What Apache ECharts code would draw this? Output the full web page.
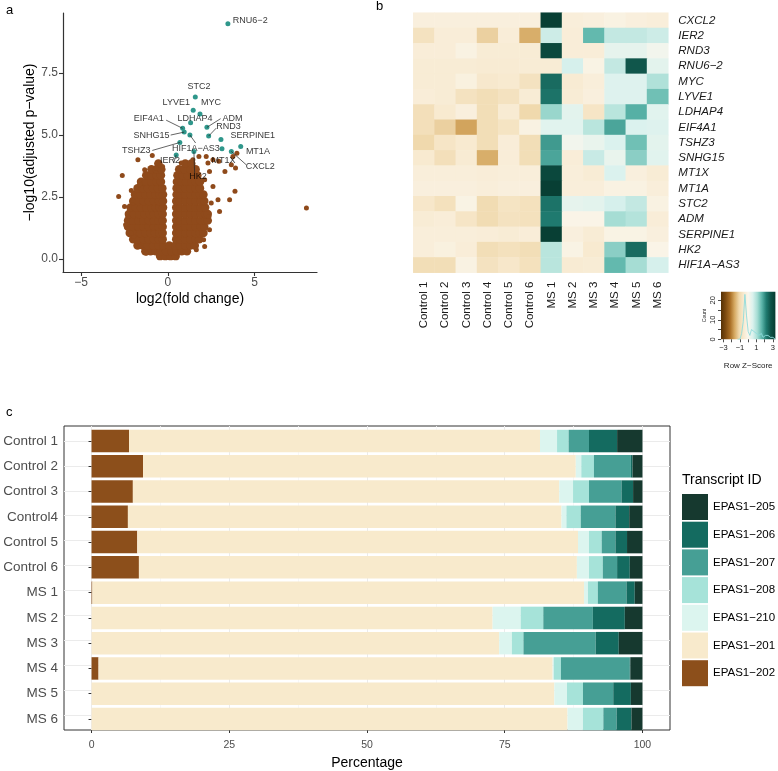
<!DOCTYPE html>
<html><head><meta charset="utf-8">
<script src="https://cdn.jsdelivr.net/npm/echarts@6/dist/echarts.min.js"></script>
<style>html,body{margin:0;padding:0;background:#fff}#c{width:778px;height:771px}</style>
</head><body><div id="c"></div><script>
const FONT = '"Liberation Sans", Arial, Helvetica, sans-serif';

// ---------- panel a : volcano ----------
// dense cloud, read row by row: [y, [x values]]
const volcanoRows = [
  [0.12,[-0.45,-0.15,0.15,0.45]],
  [0.32,[-1.3,-1.0,-0.7,-0.4,-0.1,0.2,0.5,0.8,1.1]],
  [0.55,[-1.75,-1.45,-1.15,-0.85,-0.55,-0.27,0.08,0.43,0.7,1.0,1.3,1.55]],
  [0.80,[-2.0,-1.7,-1.4,-1.1,-0.8,-0.52,-0.3,0.48,0.7,1.0,1.3,1.6,1.8]],
  [1.05,[-2.2,-1.9,-1.6,-1.3,-1.0,-0.75,-0.5,-0.3,0.48,0.7,1.0,1.3,1.6,1.85,2.05]],
  [1.30,[-2.3,-2.0,-1.7,-1.4,-1.1,-0.8,-0.55,-0.3,0.48,0.7,1.0,1.3,1.6,1.9,2.1]],
  [1.56,[-2.3,-2.0,-1.7,-1.4,-1.1,-0.8,-0.55,-0.3,0.48,0.7,1.0,1.3,1.6,1.9,2.15,2.3]],
  [1.82,[-2.25,-1.95,-1.65,-1.35,-1.05,-0.8,-0.55,-0.3,0.48,0.7,1.0,1.3,1.6,1.9,2.15,2.3]],
  [2.08,[-2.15,-1.85,-1.55,-1.25,-0.95,-0.7,-0.47,-0.28,0.48,0.7,1.0,1.3,1.6,1.9,2.15]],
  [2.34,[-2.0,-1.7,-1.4,-1.1,-0.8,-0.52,-0.28,0.48,0.7,1.0,1.3,1.6,1.9,2.1]],
  [2.60,[-1.9,-1.6,-1.3,-1.0,-0.72,-0.48,-0.28,0.5,0.72,1.0,1.3,1.6,1.85,2.05]],
  [2.86,[-1.75,-1.45,-1.15,-0.85,-0.57,-0.32,0.5,0.72,1.0,1.3,1.6,1.85]],
  [3.12,[-1.55,-1.25,-0.95,-0.65,-0.4,0.52,0.78,1.05,1.35,1.6,1.85]],
  [3.38,[-1.25,-0.95,-0.65,-0.4,0.55,0.85,1.15,1.45,1.7]],
  [3.62,[-0.95,-0.65,-0.38,0.65,0.95,1.3,1.6]],
  [3.85,[-0.55,1.0,1.35]]
];
const volcanoOutliers = [
  [-1.73,4.0],[-0.9,4.18],[-2.63,3.37],[-2.84,2.52],[-2.44,1.38],[-2.11,2.77],[-2.02,2.36],
  [-1.98,0.91],[-1.63,3.0],[-1.34,3.6],[-0.67,3.67],[-0.31,3.73],[0.77,3.87],[1.44,4.0],
  [1.79,4.14],[2.21,4.14],[2.31,3.87],[2.4,3.53],[2.12,3.2],[2.6,2.93],[2.5,2.26],[2.89,2.39],
  [2.94,3.94],[2.6,4.0],[3.29,3.53],[3.56,2.39],[3.87,2.73],[3.66,3.8],[3.9,3.67],[3.75,4.14],
  [3.98,4.27],[7.99,2.06],[2.98,1.92],[2.37,1.72],[2.4,1.18],[2.06,0.78],[-2.5,2.12],
  [-2.31,1.72],[-2.11,1.05],[-1.63,0.51],[-1.25,0.24],[1.64,0.38],[2.12,0.51]
];
const hitGenes  = ['RNU6−2','STC2','LYVE1','MYC','LDHAP4','ADM','RND3','EIF4A1','SNHG15','HIF1A−AS3','SERPINE1','TSHZ3','MT1A','MT1X','CXCL2','HK2','IER2'];
const hitX      = [3.46,1.58,1.46,1.85,1.31,2.25,2.35,0.85,0.94,1.27,3.06,0.69,4.2,3.12,3.66,1.5,0.48];
const hitY      = [9.49,6.53,6.0,5.85,5.5,5.31,4.96,5.27,5.12,5.0,4.82,4.7,4.54,4.45,4.34,4.34,4.2];
const hitLabelX = [4.75,1.79,0.48,2.48,1.56,3.72,3.49,-1.11,-0.94,1.62,4.9,-1.82,5.19,3.21,5.33,1.73,0.12];
const hitLabelY = [9.62,6.94,6.30,6.30,5.67,5.66,5.33,5.67,5.0,4.45,5.0,4.37,4.35,3.96,3.73,3.33,3.98];
const leaderLines = [
  [[-0.1,5.6],[0.85,5.27]],[[0.16,5.0],[0.94,5.12]],[[-0.9,4.38],[0.69,4.7]],
  [[1.6,4.68],[1.27,5.0]],[[3.04,5.66],[2.25,5.31]],[[2.79,5.28],[2.35,4.96]],
  [[4.52,3.8],[3.66,4.34]],[[1.54,3.47],[1.5,4.34]],[[0.33,3.87],[0.48,4.2]]
];
const volcanoXTicks = [-5,0,5];
const volcanoYTicks = [0,2.5,5,7.5];

// ---------- panel b : heatmap ----------
const samples = ['Control 1','Control 2','Control 3','Control 4','Control 5','Control 6','MS 1','MS 2','MS 3','MS 4','MS 5','MS 6'];
const genes = ['CXCL2','IER2','RND3','RNU6−2','MYC','LYVE1','LDHAP4','EIF4A1','TSHZ3','SNHG15','MT1X','MT1A','STC2','ADM','SERPINE1','HK2','HIF1A−AS3'];
const zScores = [
  [-0.3,-0.3,-0.3,-0.3,-0.3,-0.3, 3.2,-0.35,-0.3,-0.2,-0.3,-0.35],
  [-0.8,-0.4,-0.4,-1.2,-0.4,-1.6, 0.7,-0.4, 1.6, 0.8, 0.8, 0.7],
  [-0.4,-0.4,-0.2,-0.45,-0.45,-0.45, 3.0,-0.4,-0.4, 0.35, 0.35, 0.15],
  [-0.45,-0.45,-0.45,-0.5,-0.5,-0.45,-0.45, 0.6,-0.15, 0.8, 2.7, 0.4],
  [-0.45,-0.45,-0.25,-0.6,-0.55,-0.8, 2.4,-0.5,-0.35, 0.5, 0.5, 1.0],
  [-0.4,-0.45,-0.8,-0.95,-0.8,-0.45, 2.3,-0.45,-0.3, 0.5, 0.5, 1.5],
  [-0.9,-0.55,-0.3,-0.95,-0.5,-1.1, 1.2, 0.4,-0.7, 0.9, 1.7, 0.45],
  [-0.9,-1.2,-1.7,-0.95,-0.75,-0.2, 0.45, 0.45, 0.9, 1.8, 0.55, 0.5],
  [-1.1,-0.7,-0.55,-0.95,-0.4,-0.95, 1.9, 0.15, 0.3, 0.55, 1.5, 0.4],
  [-0.55,-0.9,-0.5,-1.6,-0.4,-0.95, 1.8,-0.4, 0.75, 0.3, 1.3, 0.45],
  [-0.35,-0.35,-0.35,-0.4,-0.35,-0.35, 3.0,-0.35,-0.45, 0.55,-0.3,-0.45],
  [-0.3,-0.3,-0.3,-0.35,-0.3,-0.3, 3.2,-0.35,-0.35,-0.2,-0.2,-0.35],
  [-0.65,-0.85,-0.15,-1.0,-0.75,-0.85, 2.3, 0.35, 0.4, 0.6, 0.8,-0.2],
  [-0.45,-0.4,-0.7,-1.0,-0.8,-0.85, 2.2,-0.1,-0.1, 1.1, 0.95,-0.4],
  [-0.35,-0.35,-0.35,-0.4,-0.45,-0.4, 3.2,-0.3,-0.45,-0.15,-0.15,-0.3],
  [-0.35,-0.25,-0.4,-0.95,-0.85,-0.95, 0.9,-0.15,-0.55, 1.3, 2.4,-0.1],
  [-0.95,-0.95,-0.2,-0.8,-0.65,-0.85, 0.9,-0.5,-0.45, 1.6, 1.1, 0.6]
];
const zColors = ['#543005','#7d4a0f','#a86d24','#d6aa63','#f0d9ad','#f8ead0','#faf6ec','#dbf2ee','#a6ddd4','#5cb5aa','#1f7a6f','#0e5247','#073b30'];
const histZ     = [-1.3,-1.1,-0.9,-0.7,-0.5,-0.3,-0.1,0.1,0.3,0.5,0.7,0.9,1.1,1.3,1.5,1.7,1.9,2.1,2.3,2.5,2.7,2.9,3.1,3.3];
const histCount = [0,0,1,3,9,23,12,4,2,5,4,3,2,2,3,2,1,2,2,1,1,1,2,0];
const keyXTicks = [-3,-2,-1,0,1,2,3], keyXLabels = [-3,-1,1,3];
const keyYTicks = [0,5,10,15,20], keyYLabels = [0,10,20];

// ---------- panel c : stacked bars ----------
const barSamples = ['Control 1','Control 2','Control 3','Control4','Control 5','Control 6','MS 1','MS 2','MS 3','MS 4','MS 5','MS 6'];
const t202 = [6.8, 9.35,7.5, 6.6, 8.3, 8.6, 0.15,0,   0,   1.27,0,   0];
const t201 = [74.6,78.55,77.4,78.7,80.0,79.5,89.25,72.8,74.0,82.43,84.0,86.4];
const t210 = [3.1, 1.0, 2.5, 0.9, 2.0, 2.2, 0.7, 5.1, 2.3, 0.2, 2.3, 2.8];
const t208 = [2.1, 2.3, 2.9, 2.6, 2.3, 2.5, 1.8, 4.1, 2.1, 1.3, 2.9, 3.7];
const t207 = [3.7, 6.7, 5.9, 6.3, 2.5, 2.6, 5.2, 9.0, 13.1,12.5,5.5, 2.4];
const t206 = [5.1, 0.3, 2.1, 2.5, 2.1, 2.3, 1.5, 5.8, 4.2, 0.1, 3.2, 2.7];
const t205 = [4.6, 1.8, 1.7, 2.4, 2.8, 2.3, 1.4, 3.2, 4.3, 2.2, 2.1, 2.0];
const barSeriesDef = [
  ['EPAS1−202', t202, '#8C4F1B'], ['EPAS1−201', t201, '#F8EACC'], ['EPAS1−210', t210, '#DCF5EF'],
  ['EPAS1−208', t208, '#A6E3D9'], ['EPAS1−207', t207, '#469F95'], ['EPAS1−206', t206, '#146B60'],
  ['EPAS1−205', t205, '#16392F']
];
const legendOrder = ['EPAS1−205','EPAS1−206','EPAS1−207','EPAS1−208','EPAS1−210','EPAS1−201','EPAS1−202'];
const pctTicks = [0,25,50,75,100], pctMinor = [12.5,37.5,62.5,87.5];
const rowLines = [1,2,3,4,5,6,7,8,9,10,11,12];

// ---------- build ----------
const minus = v => (v < 0 ? '−' + Math.abs(v) : String(v));
const coreData = [];
volcanoRows.forEach(r => r[1].forEach(x => coreData.push([x, r[0]])));
const hitData = hitGenes.map((g,i) => [hitX[i], hitY[i]]);
const labelData = hitGenes.map((g,i) => ({name:g, value:[hitLabelX[i], hitLabelY[i]]}));
const heatData = [];
zScores.forEach((row,r) => row.forEach((v,c) => heatData.push([c, r, v])));
const gradStops = zColors.map((c,i) => ({offset: i/(zColors.length-1), color: c}));

const grey = '#4d4d4d', dark = '#333';
const tt = (text, left, top, size) => ({text, left, top, padding:0,
  textStyle:{fontSize:size, fontWeight:'normal', color:'#000', fontFamily:FONT}});
const option = {
  animation: false,
  textStyle: {fontFamily: FONT},
  title: [tt('a', 6, 4, 13), tt('b', 376, 0, 13), tt('c', 6, 406, 13), tt('Transcript ID', 682, 473, 14)],
  legend: {
    data: legendOrder, orient:'vertical', left:682, top:494, padding:0, itemWidth:26, itemHeight:26, itemGap:1.7,
    icon:'rect', textStyle:{fontSize:11.5, color:'#000', fontFamily:FONT}, selectedMode:false
  },
  grid: [
    {left:63, top:13, width:254, height:259},
    {left:413.3, top:12.7, width:255, height:260},
    {left:721, top:291.7, width:57, height:47.6, show:true, borderWidth:0,
      backgroundColor:{type:'linear', x:0, y:0, x2:1, y2:0, colorStops:gradStops}},
    {left:64, top:426, width:606, height:308, show:true, borderColor:dark, borderWidth:1},
    {left:64, top:428.4, width:606, height:303.2}
  ],
  visualMap: {type:'continuous', min:-3.3, max:3.3, seriesIndex:5, show:false, inRange:{color:zColors}},
  xAxis: [
    {gridIndex:0, type:'value', min:-6.05, max:8.6,
      axisLine:{onZero:false, lineStyle:{color:dark, width:1.2}},
      axisTick:{customValues:volcanoXTicks, length:4, lineStyle:{color:dark, width:1.1}},
      axisLabel:{customValues:volcanoXTicks, formatter:minus, fontSize:12, color:grey, margin:5},
      splitLine:{show:false},
      name:'log2(fold change)', nameLocation:'middle', nameGap:20, nameTextStyle:{fontSize:14, color:'#000'}},
    {gridIndex:1, type:'category', data:samples, axisLine:{show:false}, axisTick:{show:false},
      axisLabel:{interval:0, rotate:90, fontSize:11.5, color:'#1a1a1a', margin:9}},
    {gridIndex:2, type:'value', min:-3.3, max:3.3,
      axisLine:{show:false, onZero:false},
      axisTick:{customValues:keyXTicks, length:3, lineStyle:{color:'#222', width:0.8}},
      axisLabel:{customValues:keyXLabels, formatter:minus, fontSize:7.5, color:'#222', margin:5},
      splitLine:{show:false},
      name:'Row Z−Score', nameLocation:'middle', nameGap:22, nameTextStyle:{fontSize:8, color:'#222'}},
    {gridIndex:3, type:'value', min:-5, max:105,
      axisLine:{show:false, onZero:false},
      axisTick:{customValues:pctTicks, length:3, lineStyle:{color:dark}},
      axisLabel:{customValues:pctTicks, fontSize:10.5, color:grey, margin:10},
      splitLine:{show:true, lineStyle:{color:'#ebebeb', width:1}},
      name:'Percentage', nameLocation:'middle', nameGap:26, nameTextStyle:{fontSize:14, color:'#000'}},
    {gridIndex:3, type:'value', min:-5, max:105,
      axisLine:{show:false, onZero:false}, axisTick:{show:false, customValues:pctMinor}, axisLabel:{show:false},
      splitLine:{show:true, lineStyle:{color:'#f5f5f5', width:0.8}}},
    {gridIndex:4, type:'value', min:-5, max:105, show:false}
  ],
  yAxis: [
    {gridIndex:0, type:'value', min:-0.52, max:9.92,
      axisLine:{show:true, onZero:false, lineStyle:{color:dark, width:1.2}},
      axisTick:{show:true, customValues:volcanoYTicks, length:4, lineStyle:{color:dark, width:1.1}},
      axisLabel:{customValues:volcanoYTicks, formatter:v => v.toFixed(1), fontSize:12, color:grey, margin:5},
      splitLine:{show:false},
      name:'−log10(adjusted p−value)', nameLocation:'middle', nameRotate:90, nameGap:21,
      nameTextStyle:{fontSize:14, color:'#000'}},
    {gridIndex:1, type:'category', data:genes, inverse:true, position:'right',
      axisLine:{show:false}, axisTick:{show:false},
      axisLabel:{interval:0, fontSize:11.5, fontStyle:'italic', color:'#1a1a1a', margin:10}},
    {gridIndex:2, type:'value', min:0, max:24.4,
      axisLine:{show:false, onZero:false},
      axisTick:{show:true, customValues:keyYTicks, length:3, lineStyle:{color:'#222', width:0.8}},
      axisLabel:{customValues:keyYLabels, rotate:90, fontSize:7.5, color:'#222', margin:4},
      splitLine:{show:false},
      name:'Count', nameLocation:'middle', nameRotate:90, nameGap:14, nameTextStyle:{fontSize:5, color:'#222'}},
    {gridIndex:3, type:'value', min:0.4, max:12.6, inverse:true,
      axisLine:{show:false, onZero:false}, axisTick:{show:false, customValues:rowLines}, axisLabel:{show:false},
      splitLine:{show:true, lineStyle:{color:'#ebebeb', width:1}}},
    {gridIndex:4, type:'category', data:barSamples, inverse:true,
      axisLine:{show:false},
      axisTick:{show:true, alignWithLabel:true, length:3, lineStyle:{color:dark}},
      axisLabel:{interval:0, fontSize:13.5, color:grey, margin:6}}
  ],
  series: [
    {type:'scatter', xAxisIndex:0, yAxisIndex:0, data:coreData, symbolSize:8.5, silent:true,
      itemStyle:{color:'#8F4A1B', opacity:1}},
    {type:'scatter', xAxisIndex:0, yAxisIndex:0, data:volcanoOutliers, symbolSize:5, silent:true,
      itemStyle:{color:'#8F4A1B', opacity:1}},
    {type:'scatter', xAxisIndex:0, yAxisIndex:0, data:hitData, symbolSize:5, silent:true, z:4,
      itemStyle:{color:'#2F978B', opacity:1}},
    {type:'lines', coordinateSystem:'cartesian2d', xAxisIndex:0, yAxisIndex:0, silent:true, z:5,
      data:leaderLines.map(l => ({coords:l})), lineStyle:{color:'#222', width:0.7, opacity:1}},
    {type:'scatter', xAxisIndex:0, yAxisIndex:0, data:labelData, symbolSize:1, silent:true, z:6,
      itemStyle:{color:'rgba(0,0,0,0)'},
      label:{show:true, position:'inside', formatter:p => p.name, fontSize:9, color:'#000', fontFamily:FONT}},
    {type:'heatmap', xAxisIndex:1, yAxisIndex:1, data:heatData, silent:true, itemStyle:{borderWidth:0}},
    {type:'line', xAxisIndex:2, yAxisIndex:2, data:histZ.map((z,i) => [z, histCount[i]]), step:'middle',
      symbol:'none', silent:true, lineStyle:{color:'#8fdcdc', width:1, opacity:0.9}}
  ].concat(barSeriesDef.map(d => ({
    type:'bar', name:d[0], data:d[1], stack:'pct', xAxisIndex:5, yAxisIndex:4,
    barCategoryGap:'11%', silent:true, itemStyle:{color:d[2], borderWidth:0}
  })))
};
const chart = echarts.init(document.getElementById('c'), null, {renderer:'canvas'});
chart.setOption(option);
</script></body></html>
